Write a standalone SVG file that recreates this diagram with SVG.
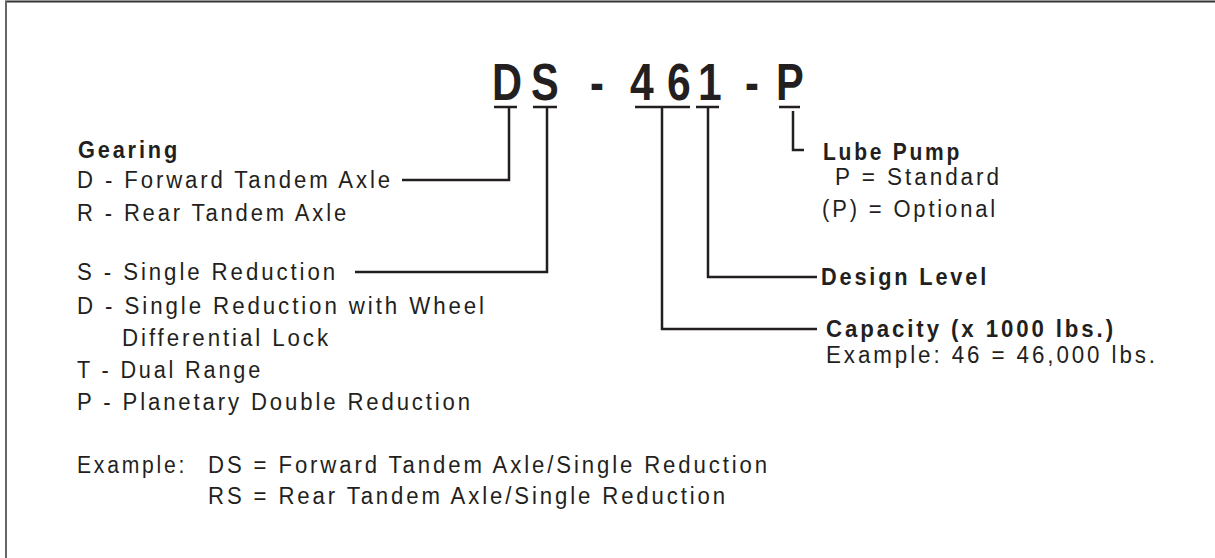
<svg xmlns="http://www.w3.org/2000/svg" width="1215" height="558" viewBox="0 0 1215 558">
<style>
text{font-family:"Liberation Sans",Arial,sans-serif;fill:#231f20;}
.r{font-size:23px;letter-spacing:3px;}
.b{font-size:23px;font-weight:bold;letter-spacing:3px;}
.t{font-size:52px;font-weight:bold;}
.c{fill:none;stroke:#231f20;stroke-width:2.5;}
</style>
<rect width="1215" height="558" fill="#fff"/>
<g id="border">
<line x1="5" y1="1.5" x2="1215" y2="1.5" stroke="#333" stroke-width="2"/>
<line x1="6" y1="1" x2="6" y2="558" stroke="#666" stroke-width="2"/>
</g>
<g id="title">
<text class="t" transform="translate(492,100) scale(0.8,1)">D</text>
<text class="t" transform="translate(531,100) scale(0.8,1)">S</text>
<text class="t" transform="translate(590,100) scale(0.8,1)">-</text>
<text class="t" transform="translate(630,100) scale(0.82,1)">4</text>
<text class="t" transform="translate(667,100) scale(0.82,1)">6</text>
<text class="t" transform="translate(698,100) scale(0.82,1)">1</text>
<text class="t" transform="translate(745,100) scale(0.8,1)">-</text>
<text class="t" transform="translate(776,100) scale(0.8,1)">P</text>
</g>
<g id="gearing">
<text class="b" x="78" y="158" textLength="102" lengthAdjust="spacingAndGlyphs">Gearing</text>
<text class="r" x="77" y="188" textLength="316" lengthAdjust="spacingAndGlyphs">D - Forward Tandem Axle</text>
<text class="r" x="77" y="221" textLength="272" lengthAdjust="spacingAndGlyphs">R - Rear Tandem Axle</text>
<text class="r" x="77" y="280" textLength="261" lengthAdjust="spacingAndGlyphs">S - Single Reduction</text>
<text class="r" x="77" y="314" textLength="410" lengthAdjust="spacingAndGlyphs">D - Single Reduction with Wheel</text>
<text class="r" x="122" y="346" textLength="209" lengthAdjust="spacingAndGlyphs">Differential Lock</text>
<text class="r" x="77" y="378" textLength="186" lengthAdjust="spacingAndGlyphs">T - Dual Range</text>
<text class="r" x="77" y="410" textLength="396" lengthAdjust="spacingAndGlyphs">P - Planetary Double Reduction</text>
</g>
<g id="example">
<text class="r" x="77" y="473" textLength="110" lengthAdjust="spacingAndGlyphs">Example:</text>
<text class="r" x="208" y="473" textLength="562" lengthAdjust="spacingAndGlyphs">DS = Forward Tandem Axle/Single Reduction</text>
<text class="r" x="208" y="504" textLength="520" lengthAdjust="spacingAndGlyphs">RS = Rear Tandem Axle/Single Reduction</text>
</g>
<g id="lube-pump">
<text class="b" x="823" y="160" textLength="139" lengthAdjust="spacingAndGlyphs">Lube Pump</text>
<text class="r" x="835" y="185" textLength="167" lengthAdjust="spacingAndGlyphs">P  = Standard</text>
<text class="r" x="822" y="217" textLength="176" lengthAdjust="spacingAndGlyphs">(P) = Optional</text>
</g>
<g id="design-level">
<text class="b" x="821" y="285" textLength="168" lengthAdjust="spacingAndGlyphs">Design Level</text>
</g>
<g id="capacity">
<text class="b" x="826" y="337" textLength="290" lengthAdjust="spacingAndGlyphs">Capacity (x 1000 lbs.)</text>
<text class="r" x="826" y="363" textLength="332" lengthAdjust="spacingAndGlyphs">Example: 46 = 46,000 lbs.</text>
</g>
<g id="connectors">
<line class="c" x1="494" y1="107" x2="517" y2="107"/>
<line class="c" x1="533" y1="107" x2="557" y2="107"/>
<line class="c" x1="635" y1="107" x2="690" y2="107"/>
<line class="c" x1="696" y1="107" x2="719" y2="107"/>
<line class="c" x1="779" y1="107" x2="800" y2="107"/>
<polyline class="c" points="509,107 509,180 402,180"/>
<polyline class="c" points="547,107 547,272 355,272"/>
<polyline class="c" points="662,107 662,329 817,329"/>
<polyline class="c" points="708,107 708,277 817,277"/>
<polyline class="c" points="793,111 793,150 804,150"/>
</g>
</svg>
